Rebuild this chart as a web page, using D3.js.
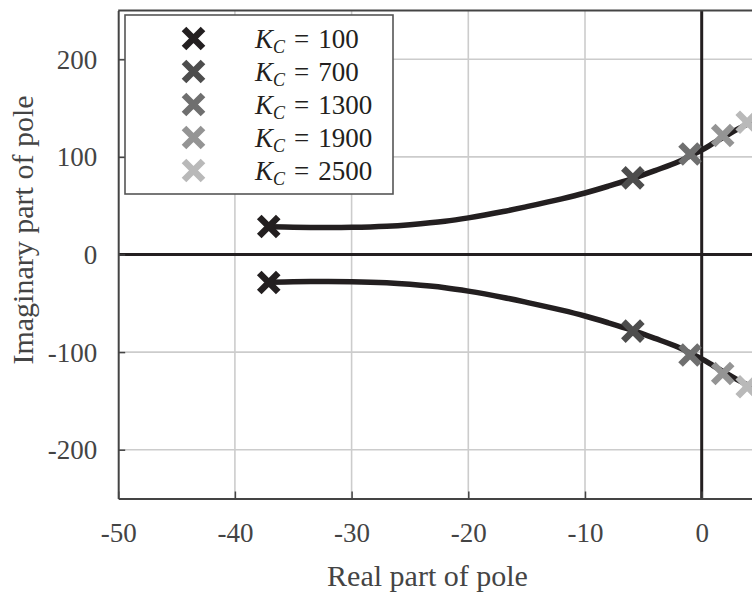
<!DOCTYPE html>
<html><head><meta charset="utf-8">
<script src="https://cdn.jsdelivr.net/npm/d3@7"></script>
<style>
html,body{margin:0;padding:0;background:#fff;overflow:hidden;}
svg{display:block;}
</style></head>
<body>
<script>
// ---- data ----
const locusRe = [-37, -35, -32, -30, -27, -25, -22, -20, -17, -15, -12, -10, -8, -6, -4, -2, -1, 0, 1, 2, 3, 4, 5, 6];
const locusIm = [28.5, 27.9, 27.6, 27.8, 29, 30.6, 34, 37.5, 44, 49, 57, 63, 70, 77.5, 86, 95, 101, 107, 114, 121, 128, 134, 140, 146];
const gains = ["100", "700", "1300", "1900", "2500"];
const markerRe = [-37.1, -5.9, -1.0, 1.8, 3.9];
const markerIm = [28.7, 78.5, 103, 122, 135.5];
const markerColors = ["#231f20", "#4d4d4d", "#6f6f6f", "#949494", "#b9b9b9"];
const xTicks = [-50, -40, -30, -20, -10, 0];
const yTicks = [-200, -100, 0, 100, 200];

const W = 752, H = 595;
const svg = d3.select("body").append("svg").attr("width", W).attr("height", H);

const x = d3.scaleLinear().domain([-50, 10]).range([118.2, 118.2 + 60 * 11.67]);
const y = d3.scaleLinear().domain([-250, 250]).range([498.5, 10.5]);
const x0 = x(-50), x1 = x(10), y0 = y(-250), y1 = y(250);

const serif = "'Liberation Serif','Times New Roman',serif";

// grid
const g = svg.append("g");
g.selectAll(".vg").data(xTicks.filter(d => d !== 0 && d !== -50)).enter().append("line")
  .attr("x1", d => x(d)).attr("x2", d => x(d)).attr("y1", y1).attr("y2", y0)
  .attr("stroke", "#cccccc").attr("stroke-width", 1.6);
g.selectAll(".hg").data(yTicks.filter(d => d !== 0)).enter().append("line")
  .attr("x1", x0).attr("x2", x1).attr("y1", d => y(d)).attr("y2", d => y(d))
  .attr("stroke", "#cccccc").attr("stroke-width", 1.6);

// zero lines
g.append("line").attr("x1", x0).attr("x2", x1).attr("y1", y(0)).attr("y2", y(0))
  .attr("stroke", "#231f20").attr("stroke-width", 3);
g.append("line").attr("x1", x(0)).attr("x2", x(0)).attr("y1", y1).attr("y2", y0)
  .attr("stroke", "#231f20").attr("stroke-width", 3);

// axes frame via d3 axes
const xAxis = d3.axisBottom(x).tickValues(xTicks).tickSizeInner(-7).tickSizeOuter(0).tickPadding(14)
  .tickFormat(d3.format("d"));
const xa = svg.append("g").attr("transform", `translate(0,${y0})`).call(xAxis);
const yAxis = d3.axisLeft(y).tickValues(yTicks).tickSizeInner(-7).tickSizeOuter(0).tickPadding(21)
  .tickFormat(d3.format("d"));
const ya = svg.append("g").attr("transform", `translate(${x0},0)`).call(yAxis);
[xa, ya].forEach(a => {
  a.select(".domain").attr("stroke", "#444").attr("stroke-width", 2);
  a.selectAll(".tick line").attr("stroke", "#444").attr("stroke-width", 1.5);
  a.selectAll(".tick text").attr("fill", "#444").style("font-family", serif).style("font-size", "27px")
    .text(d => d < 0 ? "-" + Math.abs(d) : d);
});
xa.selectAll(".tick text").attr("dy", "0.72em").attr("y", 24);
ya.selectAll(".tick text").attr("dy", "0.33em");
// top frame line
svg.append("line").attr("x1", x0).attr("x2", x1).attr("y1", y1).attr("y2", y1)
  .attr("stroke", "#444").attr("stroke-width", 2);

// locus curves
const line = d3.line().x(d => x(d[0])).y(d => y(d[1])).curve(d3.curveCatmullRom);
const upper = locusRe.map((r, i) => [r, locusIm[i]]);
const lower = locusRe.map((r, i) => [r, -locusIm[i]]);
[upper, lower].forEach(pts => {
  svg.append("path").attr("d", line(pts)).attr("fill", "none")
    .attr("stroke", "#231f20").attr("stroke-width", 5.5);
});

// markers
const cross = (cx, cy, s) => `M${cx - s},${cy - s}L${cx + s},${cy + s}M${cx - s},${cy + s}L${cx + s},${cy - s}`;
const mk = svg.append("g");
gains.forEach((k, i) => {
  [1, -1].forEach(sgn => {
    mk.append("path").attr("d", cross(x(markerRe[i]), y(sgn * markerIm[i]), 9.5))
      .attr("stroke", markerColors[i]).attr("stroke-width", 6.5).attr("fill", "none");
  });
});

// legend
const lg = svg.append("g");
lg.append("rect").attr("x", 125).attr("y", 15).attr("width", 268).attr("height", 179)
  .attr("fill", "#fff").attr("stroke", "#555").attr("stroke-width", 1.6);
gains.forEach((k, i) => {
  const cy = 38.5 + i * 33;
  lg.append("path").attr("d", cross(193.5, cy, 9.5))
    .attr("stroke", markerColors[i]).attr("stroke-width", 6.5).attr("fill", "none");
  const t = lg.append("text").attr("x", 255).attr("y", cy + 9)
    .style("font-family", serif).style("font-size", "27px").attr("fill", "#231f20");
  t.append("tspan").attr("font-style", "italic").text("K");
  t.append("tspan").attr("font-style", "italic").attr("font-size", "18px").attr("dy", 5).text("C");
  t.append("tspan").attr("dy", -5).attr("dx", 9).text("=");
  t.append("tspan").attr("dx", 9).text(k);
});

// axis labels
svg.append("text").attr("x", 427.5).attr("y", 586).attr("text-anchor", "middle")
  .style("font-family", serif).style("font-size", "30px").attr("fill", "#444").text("Real part of pole");
svg.append("text").attr("transform", "translate(33,230) rotate(-90)").attr("text-anchor", "middle")
  .style("font-family", serif).style("font-size", "30px").attr("fill", "#444").text("Imaginary part of pole");
</script>
</body></html>
